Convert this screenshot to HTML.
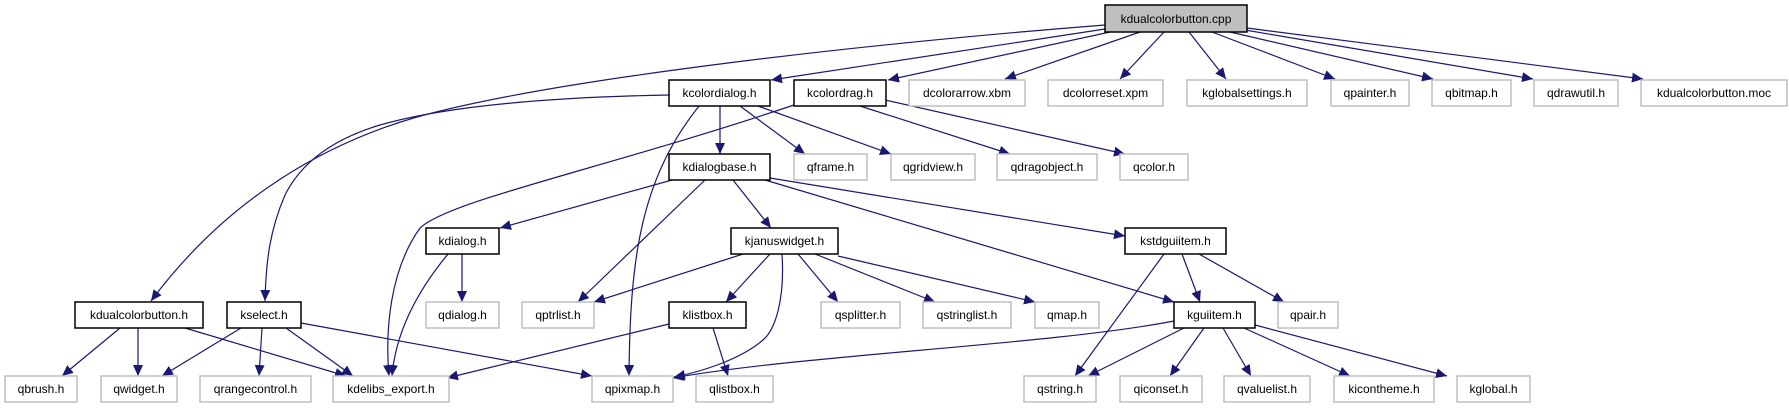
<!DOCTYPE html>
<html><head><meta charset="utf-8"><style>
html,body{margin:0;padding:0;background:#fff;}
svg{display:block;}
text{font-family:"Liberation Sans",sans-serif;font-size:12px;fill:#000;}
</style></head><body>
<svg width="1789" height="411" viewBox="0 0 1789 411" xmlns="http://www.w3.org/2000/svg">
<defs>
<marker id="a" markerUnits="userSpaceOnUse" markerWidth="12" markerHeight="10" refX="11" refY="5" orient="auto">
<path d="M0,0 L11,5 L0,10 Z" fill="#191970"/>
</marker>
</defs>
<g stroke="#191970" stroke-width="1.2" fill="none" marker-end="url(#a)">
<path d="M1105,25 C850,45 550,80 417,117 C330,142 230,195 151,301"/>
<path d="M1105,29 L771,80"/>
<path d="M1110,32 L888,80"/>
<path d="M1140,32 L1005,79"/>
<path d="M1164,32 L1120,79"/>
<path d="M1189,32 L1226,79"/>
<path d="M1212,32 L1335,79"/>
<path d="M1230,32 L1433,79"/>
<path d="M1245,30 L1533,79"/>
<path d="M1247,28 L1643,79"/>
<path d="M669,95 C560,97 450,105 380,125 C330,140 300,165 285,195 C270,230 266,260 265,301"/>
<path d="M699,106 C640,180 630,260 629,376"/>
<path d="M720,106 L720,154"/>
<path d="M740,106 L805,154"/>
<path d="M758,106 L891,154"/>
<path d="M794,105 C600,170 450,200 420,228 C390,270 385,330 389,376"/>
<path d="M860,106 L1010,154"/>
<path d="M885,100 L1125,154"/>
<path d="M672,180 L500,228"/>
<path d="M705,180 L578,302"/>
<path d="M733,180 L771,228"/>
<path d="M770,178 L1125,236"/>
<path d="M765,180 L1174,302"/>
<path d="M462,254 L462,302"/>
<path d="M448,254 C410,300 395,340 392,376"/>
<path d="M743,254 L594,302"/>
<path d="M770,254 L726,302"/>
<path d="M798,254 L838,302"/>
<path d="M815,254 L935,302"/>
<path d="M838,256 L1035,302"/>
<path d="M782,254 C785,300 775,330 763,340 C740,360 700,372 674,377"/>
<path d="M669,324 L447,378"/>
<path d="M713,328 L728,376"/>
<path d="M1164,254 L1075,376"/>
<path d="M1182,254 L1200,302"/>
<path d="M1199,254 L1284,302"/>
<path d="M1174,321 C1050,345 800,355 673,378"/>
<path d="M1184,328 L1088,376"/>
<path d="M1204,328 L1170,376"/>
<path d="M1223,328 L1251,376"/>
<path d="M1244,328 L1350,376"/>
<path d="M1255,325 L1447,376"/>
<path d="M120,328 L62,376"/>
<path d="M138,328 L138,376"/>
<path d="M185,328 L346,376"/>
<path d="M241,328 L162,376"/>
<path d="M262,328 L259,376"/>
<path d="M286,328 L353,376"/>
<path d="M301,323 L592,376"/>
</g>
<g stroke-width="1.5">
<rect x="1105" y="5" width="142" height="27" fill="#bfbfbf" stroke="#000"/>
<g fill="#fff" stroke="#000">
<rect x="669" y="80" width="101" height="26"/>
<rect x="794" y="80" width="92" height="26"/>
<rect x="669" y="154" width="101" height="26"/>
<rect x="426" y="228" width="73" height="26"/>
<rect x="731" y="228" width="107" height="26"/>
<rect x="1125" y="228" width="101" height="26"/>
<rect x="75" y="302" width="128" height="26"/>
<rect x="227" y="302" width="74" height="26"/>
<rect x="669" y="302" width="77" height="26"/>
<rect x="1174" y="302" width="81" height="26"/>
</g>
<g fill="#fff" stroke="#bfbfbf">
<rect x="909" y="80" width="116" height="26"/>
<rect x="1048" y="80" width="115" height="26"/>
<rect x="1187" y="80" width="120" height="26"/>
<rect x="1331" y="80" width="78" height="26"/>
<rect x="1432" y="80" width="79" height="26"/>
<rect x="1534" y="80" width="84" height="26"/>
<rect x="1641" y="80" width="146" height="26"/>
<rect x="794" y="154" width="73" height="26"/>
<rect x="891" y="154" width="84" height="26"/>
<rect x="997" y="154" width="100" height="26"/>
<rect x="1120" y="154" width="68" height="26"/>
<rect x="426" y="302" width="73" height="26"/>
<rect x="522" y="302" width="72" height="26"/>
<rect x="821" y="302" width="79" height="26"/>
<rect x="923" y="302" width="88" height="26"/>
<rect x="1035" y="302" width="64" height="26"/>
<rect x="1278" y="302" width="60" height="26"/>
<rect x="5" y="376" width="72" height="26"/>
<rect x="101" y="376" width="76" height="26"/>
<rect x="200" y="376" width="111" height="26"/>
<rect x="333" y="376" width="116" height="26"/>
<rect x="592" y="376" width="81" height="26"/>
<rect x="696" y="376" width="77" height="26"/>
<rect x="1024" y="376" width="72" height="26"/>
<rect x="1120" y="376" width="82" height="26"/>
<rect x="1224" y="376" width="86" height="26"/>
<rect x="1334" y="376" width="100" height="26"/>
<rect x="1457" y="376" width="73" height="26"/>
</g>
</g>
<g text-anchor="middle">
<text x="1176" y="23">kdualcolorbutton.cpp</text>
<text x="719.5" y="97">kcolordialog.h</text>
<text x="840" y="97">kcolordrag.h</text>
<text x="967" y="97">dcolorarrow.xbm</text>
<text x="1105.5" y="97">dcolorreset.xpm</text>
<text x="1247" y="97">kglobalsettings.h</text>
<text x="1370" y="97">qpainter.h</text>
<text x="1471.5" y="97">qbitmap.h</text>
<text x="1576" y="97">qdrawutil.h</text>
<text x="1714" y="97">kdualcolorbutton.moc</text>
<text x="719.5" y="171">kdialogbase.h</text>
<text x="830.5" y="171">qframe.h</text>
<text x="933" y="171">qgridview.h</text>
<text x="1047" y="171">qdragobject.h</text>
<text x="1154" y="171">qcolor.h</text>
<text x="462.5" y="245">kdialog.h</text>
<text x="784.5" y="245">kjanuswidget.h</text>
<text x="1175.5" y="245">kstdguiitem.h</text>
<text x="139" y="319">kdualcolorbutton.h</text>
<text x="264" y="319">kselect.h</text>
<text x="462.5" y="319">qdialog.h</text>
<text x="558" y="319">qptrlist.h</text>
<text x="707.5" y="319">klistbox.h</text>
<text x="860.5" y="319">qsplitter.h</text>
<text x="967" y="319">qstringlist.h</text>
<text x="1067" y="319">qmap.h</text>
<text x="1214.5" y="319">kguiitem.h</text>
<text x="1308" y="319">qpair.h</text>
<text x="41" y="393">qbrush.h</text>
<text x="139" y="393">qwidget.h</text>
<text x="255.5" y="393">qrangecontrol.h</text>
<text x="391" y="393">kdelibs_export.h</text>
<text x="632.5" y="393">qpixmap.h</text>
<text x="734.5" y="393">qlistbox.h</text>
<text x="1060" y="393">qstring.h</text>
<text x="1161" y="393">qiconset.h</text>
<text x="1267" y="393">qvaluelist.h</text>
<text x="1384" y="393">kicontheme.h</text>
<text x="1493.5" y="393">kglobal.h</text>
</g>
</svg>
</body></html>
